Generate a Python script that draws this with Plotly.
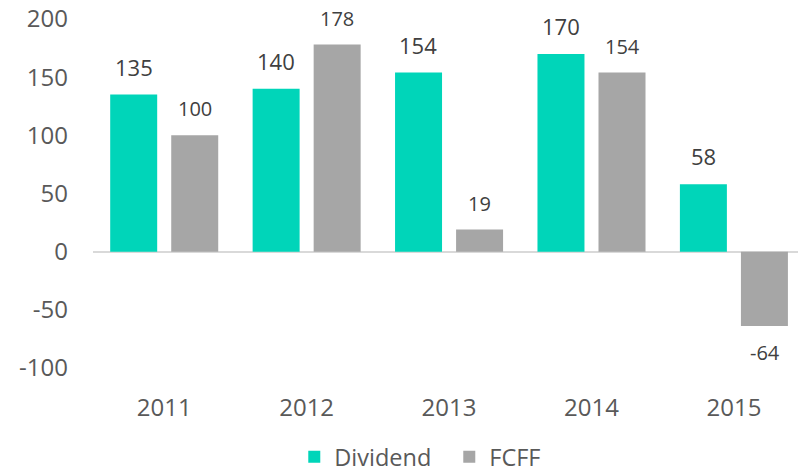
import plotly.graph_objects as go

years = ["2011", "2012", "2013", "2014", "2015"]
dividend = [135, 140, 154, 170, 58]
fcff = [100, 178, 19, 154, -64]
series_names = ["Dividend", "FCFF"]
colors = ["#00D5B9", "#A6A6A6"]
y_ticks = [-100, -50, 0, 50, 100, 150, 200]

FONT = "Open Sans"
fig = go.Figure()
fig.add_trace(go.Bar(name=series_names[0], x=years, y=dividend, marker=dict(color=colors[0], line_width=0)))
fig.add_trace(go.Bar(name=series_names[1], x=years, y=fcff, marker=dict(color=colors[1], line_width=0)))

for vals, off, size in [(dividend, -0.215, 22), (fcff, 0.215, 20)]:
    for i, v in enumerate(vals):
        fig.add_annotation(x=i + off, y=v, xref="x", yref="y", text=str(v), showarrow=False,
                           yshift=11 if v >= 0 else -11,
                           yanchor="bottom" if v >= 0 else "top",
                           font=dict(family=FONT, size=size, color="#404040"))

fig.update_layout(
    width=798, height=472,
    margin=dict(l=93, r=0, t=19, b=104, autoexpand=False),
    paper_bgcolor="white", plot_bgcolor="white",
    barmode="group", bargap=0.143, bargroupgap=0.23,
    font=dict(family=FONT, size=24, color="#595959"),
    showlegend=True,
    legend=dict(orientation="h", x=0.2855, xanchor="left", y=-0.255, yanchor="middle",
                entrywidth=110, entrywidthmode="pixels",
                font=dict(family=FONT, size=23.5, color="#595959"), tracegroupgap=0),
    xaxis=dict(range=[-0.5, 4.45], showgrid=False, showline=False, ticks="", automargin=False,
               ticklabelstandoff=23, tickfont=dict(size=24)),
    yaxis=dict(range=[-100, 200], tickvals=y_ticks, ticktext=[str(t) for t in y_ticks],
               showgrid=False, showline=False, ticks="", automargin=False,
               zeroline=True, zerolinecolor="#D9D9D9", zerolinewidth=1.5,
               ticklabelstandoff=24, tickfont=dict(size=24)),
)
fig.write_html("out.html", config={"displayModeBar": False},
               post_script="document.body.style.margin='0';document.body.style.overflow='hidden';")
